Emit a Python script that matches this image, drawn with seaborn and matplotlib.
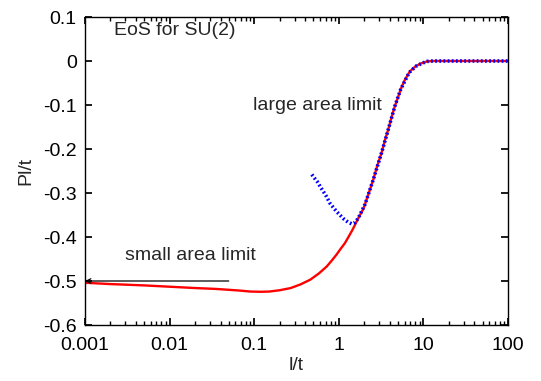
import matplotlib
matplotlib.use("Agg")
import matplotlib.pyplot as plt
import seaborn as sns
import pandas as pd

# Equation of state for SU(2): full result and large-area asymptotics
full_x = [0.001, 0.002, 0.005, 0.01, 0.02, 0.035, 0.05, 0.07, 0.09, 0.12, 0.15,
          0.2, 0.27, 0.35, 0.46, 0.58, 0.72, 0.83, 0.94, 1.05, 1.18, 1.3, 1.42,
          1.52, 1.63, 1.78, 1.95, 2.2, 2.56, 2.85, 3.21, 3.5, 3.85, 4.2, 4.61,
          5.0, 5.4, 6.0, 6.8, 7.5, 8.3, 9.2, 10, 11, 13, 20, 50, 100]
full_y = [-0.504, -0.507, -0.510, -0.513, -0.516, -0.518, -0.520, -0.522, -0.524,
          -0.5245, -0.524, -0.521, -0.516, -0.508, -0.497, -0.483, -0.467, -0.453,
          -0.440, -0.427, -0.414, -0.400, -0.387, -0.376, -0.364, -0.350, -0.336,
          -0.307, -0.269, -0.238, -0.208, -0.181, -0.155, -0.128, -0.102,
          -0.083, -0.064, -0.044, -0.026, -0.017, -0.011, -0.006, -0.004, -0.001,
          0.0, 0.0, 0.0, 0.0]

large_x = [0.48, 0.52, 0.56, 0.61, 0.70, 0.79, 0.94, 1.13, 1.28, 1.42, 1.56, 1.70,
           2.04, 2.56, 3.21, 3.85, 4.61, 5.4, 6.8, 8.3, 10, 11, 13, 20, 50, 100]
large_y = [-0.258, -0.267, -0.275, -0.287, -0.305, -0.324, -0.342, -0.358, -0.366,
           -0.370, -0.367, -0.357, -0.326, -0.269, -0.208, -0.155, -0.102, -0.064,
           -0.026, -0.011, -0.004, -0.001, 0.0, 0.0, 0.0, 0.0]

small_area_value = -0.5
x_ticks = [0.001, 0.01, 0.1, 1, 10, 100]
x_labels = ["0.001", "0.01", "0.1", "1", "10", "100"]
y_ticks = [0.1, 0, -0.1, -0.2, -0.3, -0.4, -0.5, -0.6]
y_labels = ["0.1", "0", "-0.1", "-0.2", "-0.3", "-0.4", "-0.5", "-0.6"]

sns.set_theme(style="ticks")
plt.rcParams["font.family"] = ["Liberation Sans", "DejaVu Sans"]
plt.rcParams.update({
    "xtick.direction": "in", "ytick.direction": "in",
    "xtick.top": True, "ytick.right": True,
    "xtick.major.size": 5, "ytick.major.size": 5,
    "xtick.minor.size": 3,
    "axes.linewidth": 1.0,
})

W, H = 541, 381
L, R, T, B = 85, 508, 17, 325
fig = plt.figure(figsize=(W / 100, H / 100), dpi=100)
ax = fig.add_axes([L / W, 1 - B / H, (R - L) / W, (B - T) / H])

df_full = pd.DataFrame({"x": full_x, "y": full_y})
df_large = pd.DataFrame({"x": large_x, "y": large_y})

sns.lineplot(data=df_full, x="x", y="y", ax=ax, color="#ff0000", lw=1.7,
             sort=False, estimator=None)
sns.lineplot(data=df_large, x="x", y="y", ax=ax, color="#0000ff", lw=2.6,
             sort=False, estimator=None, linestyle=(0, (0.5, 0.65)))

ax.set_xscale("log")
ax.set_xlim(0.001, 100)
ax.set_ylim(-0.6, 0.1)
ax.set_xticks(x_ticks)
ax.set_xticklabels(x_labels)
ax.set_yticks(y_ticks)
ax.set_yticklabels(y_labels)
ax.tick_params(axis="both", which="both", labelsize=14, colors="black", pad=6)
ax.tick_params(axis="x", which="major", pad=9)
for s in ax.spines.values():
    s.set_color("black")

ax.set_xlabel("l/t", fontsize=14, labelpad=2)
ax.set_ylabel("Pl/t", fontsize=14, labelpad=6)

ax.annotate("", xy=(0.001, small_area_value), xytext=(0.05, small_area_value),
            arrowprops=dict(arrowstyle="->", color="black", lw=0.9,
                            shrinkA=0, shrinkB=0, mutation_scale=8))

ax.text(0.0022, 0.069, "EoS for SU(2)", fontsize=14, ha="left", va="center")
ax.text(0.098, -0.101, "large area limit", fontsize=14, ha="left", va="center")
ax.text(0.00295, -0.443, "small area limit", fontsize=14, ha="left", va="center")

fig.savefig("out.png", dpi=100)
